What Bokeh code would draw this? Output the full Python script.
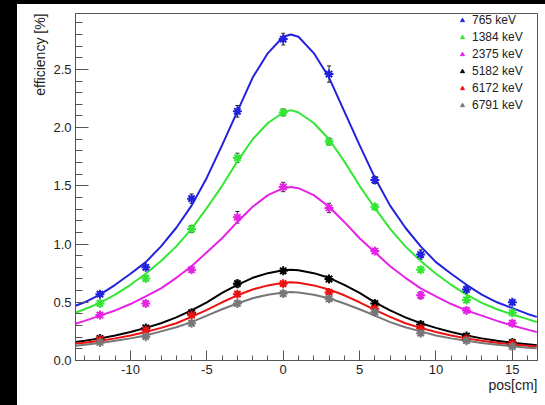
from bokeh.plotting import figure
from bokeh.models import (Range1d, FixedTicker, PrintfTickFormatter, Legend, LegendItem,
                          Whisker, TeeHead, ColumnDataSource, Title, Spacer)
from bokeh.layouts import row, column
from bokeh.embed import file_html
from bokeh.resources import INLINE

# ---------------- data ----------------
POS = [-12, -9, -6, -3, 0, 3, 6, 9, 12, 15]
LABELS = ["765 keV", "1384 keV", "2375 keV", "5182 keV", "6172 keV", "6791 keV"]
COLORS = ["#2222dd", "#33e633", "#e622e6", "#000000", "#ee1111", "#777777"]

EFF_765 = [0.57, 0.80, 1.39, 2.14, 2.76, 2.46, 1.55, 0.91, 0.61, 0.50]
EFF_1384 = [0.49, 0.705, 1.13, 1.74, 2.13, 1.88, 1.32, 0.78, 0.52, 0.41]
EFF_2375 = [0.39, 0.49, 0.78, 1.23, 1.49, 1.31, 0.94, 0.56, 0.43, 0.32]
EFF_5182 = [0.19, 0.28, 0.41, 0.66, 0.77, 0.70, 0.49, 0.31, 0.21, 0.155]
EFF_6172 = [0.18, 0.26, 0.39, 0.57, 0.66, 0.585, 0.445, 0.275, 0.185, 0.145]
EFF_6791 = [0.155, 0.205, 0.32, 0.49, 0.575, 0.53, 0.415, 0.235, 0.17, 0.12]

ERR_765 = [0.02, 0.02, 0.04, 0.05, 0.05, 0.07, 0.03, 0.04, 0.03, 0.02]
ERR_1384 = [0.02, 0.02, 0.03, 0.04, 0.03, 0.03, 0.02, 0.02, 0.02, 0.02]
ERR_2375 = [0.02, 0.02, 0.02, 0.05, 0.04, 0.04, 0.02, 0.03, 0.02, 0.02]
ERR_5182 = [0.01, 0.01, 0.02, 0.03, 0.02, 0.02, 0.02, 0.02, 0.01, 0.01]
ERR_6172 = [0.01, 0.01, 0.02, 0.02, 0.02, 0.02, 0.02, 0.02, 0.01, 0.01]
ERR_6791 = [0.01, 0.01, 0.02, 0.02, 0.02, 0.02, 0.02, 0.02, 0.01, 0.01]

# fitted curves at these positions
FIT_X = [-13.6, -13, -12, -11, -10, -9, -8, -7, -6, -5, -4, -3, -2, -1, 0, 0.5, 1,
         2, 3, 4, 5, 6, 7, 8, 9, 10, 11, 12, 13, 14, 15, 16, 16.6]
FIT_765 = [0.47, 0.50, 0.565, 0.65, 0.745, 0.845, 0.98, 1.14, 1.33, 1.57, 1.85, 2.14, 2.43,
           2.64, 2.78, 2.80, 2.78, 2.64, 2.43, 2.14, 1.85, 1.57, 1.33, 1.14, 0.98, 0.845,
           0.745, 0.65, 0.565, 0.50, 0.45, 0.40, 0.375]
FIT_1384 = [0.41, 0.44, 0.495, 0.565, 0.65, 0.745, 0.855, 0.98, 1.13, 1.31, 1.50, 1.71, 1.90,
            2.04, 2.13, 2.15, 2.13, 2.04, 1.90, 1.71, 1.50, 1.31, 1.13, 0.98, 0.855, 0.745,
            0.65, 0.565, 0.495, 0.44, 0.395, 0.355, 0.33]
FIT_2375 = [0.315, 0.34, 0.385, 0.43, 0.485, 0.55, 0.62, 0.71, 0.81, 0.93, 1.05, 1.19, 1.32,
            1.42, 1.48, 1.49, 1.48, 1.42, 1.32, 1.19, 1.05, 0.93, 0.81, 0.71, 0.62, 0.55,
            0.485, 0.43, 0.385, 0.34, 0.30, 0.265, 0.245]
FIT_5182 = [0.16, 0.17, 0.19, 0.215, 0.245, 0.28, 0.32, 0.37, 0.43, 0.50, 0.58, 0.65, 0.71,
            0.75, 0.775, 0.78, 0.775, 0.75, 0.71, 0.65, 0.58, 0.50, 0.43, 0.37, 0.32, 0.28,
            0.245, 0.215, 0.19, 0.17, 0.153, 0.14, 0.13]
FIT_6172 = [0.145, 0.152, 0.17, 0.19, 0.215, 0.245, 0.28, 0.32, 0.375, 0.435, 0.50, 0.56,
            0.61, 0.645, 0.668, 0.672, 0.668, 0.645, 0.61, 0.56, 0.50, 0.435, 0.375, 0.32,
            0.28, 0.245, 0.215, 0.19, 0.17, 0.152, 0.138, 0.127, 0.12]
FIT_6791 = [0.127, 0.135, 0.15, 0.17, 0.19, 0.215, 0.25, 0.285, 0.33, 0.385, 0.44, 0.49,
            0.535, 0.565, 0.584, 0.588, 0.584, 0.565, 0.535, 0.49, 0.44, 0.385, 0.33, 0.285,
            0.25, 0.215, 0.19, 0.17, 0.15, 0.135, 0.122, 0.11, 0.105]

X_TICKS = [-10, -5, 0, 5, 10, 15]
X_MINOR = list(range(-13, 17))
Y_TICKS = [0.0, 0.5, 1.0, 1.5, 2.0, 2.5]
Y_MINOR = [i / 10 for i in range(0, 30)]

EFFS = [EFF_765, EFF_1384, EFF_2375, EFF_5182, EFF_6172, EFF_6791]
ERRS = [ERR_765, ERR_1384, ERR_2375, ERR_5182, ERR_6172, ERR_6791]
FITS = [FIT_765, FIT_1384, FIT_2375, FIT_5182, FIT_6172, FIT_6791]

FONT = "Liberation Sans"

# ---------------- figure ----------------
p = figure(width=528, height=401, x_range=Range1d(-13.6, 16.65), y_range=Range1d(0, 2.98),
           output_backend="svg", toolbar_location=None,
           min_border_left=58, min_border_right=8, min_border_top=9, min_border_bottom=45,
           background_fill_color="white", border_fill_color="white")
p.grid.visible = False
p.outline_line_color = "#555555"
p.outline_line_width = 1

for ax in (p.xaxis[0], p.yaxis[0]):
    ax.axis_line_color = "#555555"
    ax.major_tick_line_color = "#555555"
    ax.minor_tick_line_color = "#555555"
    ax.major_tick_out = 0
    ax.minor_tick_out = 0
    ax.major_label_text_font = FONT
    ax.major_label_text_font_size = "13px"
    ax.major_label_text_color = "#222222"
    ax.major_label_standoff = 4

p.xaxis[0].ticker = FixedTicker(ticks=X_TICKS, minor_ticks=X_MINOR)
p.xaxis[0].formatter = PrintfTickFormatter(format="%d")
p.xaxis[0].major_tick_in = 10
p.xaxis[0].minor_tick_in = 5
p.yaxis[0].ticker = FixedTicker(ticks=Y_TICKS, minor_ticks=Y_MINOR)
p.yaxis[0].formatter = PrintfTickFormatter(format="%.1f")
p.yaxis[0].major_tick_in = 13
p.yaxis[0].minor_tick_in = 7

# fit curves
for fit, color in zip(FITS, COLORS):
    p.line(FIT_X, fit, line_color=color, line_width=2)

# data points with error bars
items = []
for eff, err, color, lab in zip(EFFS, ERRS, COLORS, LABELS):
    src = ColumnDataSource(dict(
        x=POS, y=eff,
        upper=[v + e for v, e in zip(eff, err)],
        lower=[v - e for v, e in zip(eff, err)]))
    w = Whisker(source=src, base="x", upper="upper", lower="lower",
                line_color="#222222", line_width=1,
                upper_head=TeeHead(size=4, line_color="#222222", line_width=1),
                lower_head=TeeHead(size=4, line_color="#222222", line_width=1))
    p.add_layout(w)
    p.scatter(x="x", y="y", source=src, marker="asterisk", size=9,
              line_color=color, line_width=2)
    # hidden triangle renderer used only for the legend symbol
    tri = p.scatter(x="x", y="y", source=src, marker="triangle", size=7,
                    fill_color=color, line_color=color, visible=False)
    items.append(LegendItem(label=lab, renderers=[tri]))

leg = Legend(items=items, location=(382, 248), border_line_alpha=0, background_fill_alpha=0,
             label_text_font=FONT, label_text_font_size="12px", label_text_color="#222222",
             glyph_width=10, glyph_height=12, label_height=12, spacing=3,
             padding=0, margin=0, label_standoff=5)
p.add_layout(leg)

# axis titles (ROOT style, aligned to the end of the axis)
p.add_layout(Title(text="efficiency [%]", align="right", text_font=FONT, text_font_size="14px",
                   text_font_style="normal", text_color="#222222", standoff=6), "left")
p.add_layout(Title(text="pos[cm]", align="right", text_font=FONT, text_font_size="14px",
                   text_font_style="normal", text_color="#222222", standoff=0,
                   vertical_align="top", text_line_height=0.7), "below")

left_bar = Spacer(width=17, height=405, styles={"background-color": "black"})
top_bar = Spacer(width=528, height=4, styles={"background-color": "black"})
layout = row(left_bar, column(top_bar, p))

open("out.html", "w").write(file_html(layout, INLINE))
